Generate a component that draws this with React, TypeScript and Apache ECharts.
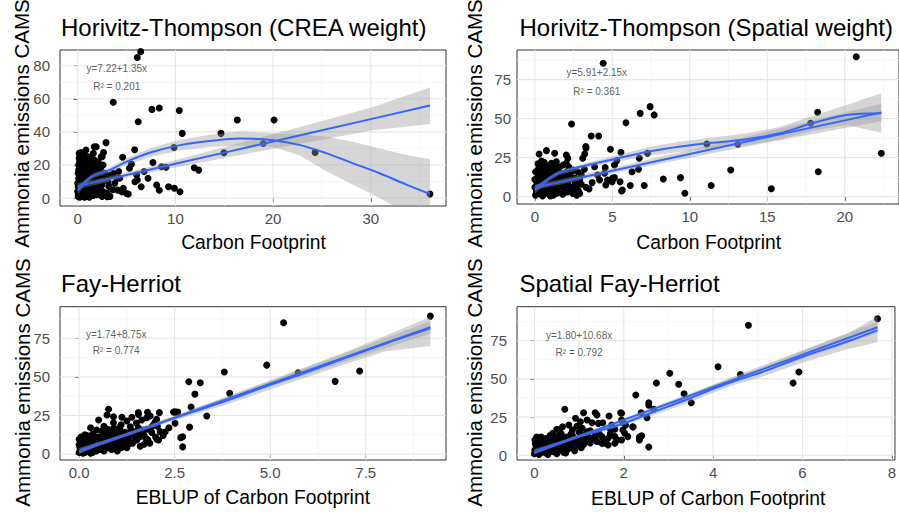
import React, { useEffect, useRef } from 'react';
import * as echarts from 'echarts';

type Pt = [number, number];
type Row = [number, number, number, number]; // x, fit, lower, upper

const FONT = '"Liberation Sans", Arial, Helvetica, sans-serif';

// ---------------- Panel 1: Horvitz-Thompson (CREA weight) ----------------
const htCreaTitle = 'Horivitz-Thompson (CREA weight)';
const htCreaXName = 'Carbon Footprint';
const htCreaEq = 'y=7.22+1.35x';
const htCreaR2 = 'R² = 0.201';
const htCreaXTicks = [0, 10, 20, 30];
const htCreaXMinor = [5, 15, 25, 35];
const htCreaYTicks = [0, 20, 40, 60, 80];
const htCreaYMinor = [10, 30, 50, 70];
const htCreaPoints: Pt[] = [
  [0.05, 1], [0.1, 3], [0.15, 6], [0.2, 9], [0.1, 12], [0.05, 15], [0.2, 18], [0.3, 2], [0.35, 5], [0.4, 8],
  [0.3, 11], [0.4, 14], [0.25, 20], [0.3, 24], [0.35, 27.5], [0.5, 1.5], [0.55, 4], [0.6, 7], [0.5, 10], [0.6, 13],
  [0.55, 16], [0.5, 22], [0.7, 26], [0.75, 2], [0.8, 5], [0.85, 9], [0.7, 12], [0.8, 15], [0.9, 19], [0.75, 23],
  [1.0, 1], [1.05, 4], [1.1, 7], [1.0, 10], [1.15, 13], [1.0, 17], [1.2, 21], [1.1, 25], [1.3, 3], [1.35, 6],
  [1.4, 9], [1.3, 12], [1.45, 16], [1.5, 20], [1.6, 27], [1.6, 1.5], [1.7, 5], [1.75, 8], [1.6, 11], [1.8, 14],
  [1.9, 18], [1.7, 23], [2.0, 2], [2.1, 6], [2.0, 10], [2.2, 13], [2.3, 17], [2.1, 22], [2.5, 1], [2.6, 4],
  [2.5, 8], [2.7, 12], [2.8, 15], [2.4, 19], [3.0, 3], [3.2, 7], [3.1, 10], [3.4, 14], [3.3, 1], [3.6, 5],
  [3.8, 9], [4.0, 12], [4.2, 16], [0.05, 7], [0.1, 20], [0.15, 24], [0.45, 18], [0.65, 20], [0.95, 13], [1.25, 15],
  [0.0, 4], [0.0, 9], [0.2, 0.5], [0.7, 0.5], [1.2, 0.5], [0.4, 3], [0.9, 6], [1.5, 11], [2.0, 14], [2.6, 20],
  [0.85, 29], [1.9, 31],
  [0.1, 17], [0.2, 22], [0.3, 15], [0.45, 12], [0.55, 25], [0.65, 10], [0.7, 17], [0.85, 21], [0.95, 2.5], [1.05, 19],
  [1.15, 9], [1.25, 23], [1.35, 1.5], [1.4, 18], [1.55, 14], [1.65, 22], [1.85, 11], [1.95, 16], [2.05, 20], [2.25, 9],
  [0.25, 13], [0.35, 9.5], [0.6, 3], [0.9, 11], [1.1, 15], [0.15, 27], [0.45, 6], [1.8, 3], [2.3, 4], [2.4, 25],
  [6.1, 85], [6.45, 88.5], [3.64, 57.9], [6.2, 46.1], [7.6, 53.6], [8.35, 54.4], [10.4, 52.9], [10.7, 39.1],
  [14.67, 39.1], [16.34, 47.2], [20.1, 47.2], [9.86, 30.6], [14.97, 27.4], [24.3, 27.6], [19.0, 33.0], [36.06, 2.4],
  [11.93, 18.3], [12.38, 16.9], [7.7, 21.5], [8.08, 7.9], [8.35, 4.7], [9.3, 6.8], [9.9, 5.9], [10.47, 3.8],
  [9.04, 18.6], [8.6, 18.9], [6.5, 6.8], [5.86, 9.9], [5.83, 29.2], [2.9, 33.5], [1.7, 31.0], [2.65, 27.5],
  [2.5, 25], [4.6, 24.7], [4.67, 5.9], [4.1, 4.8], [5.0, 2.8], [3.03, 0.8], [3.64, 14.9], [6.04, 13.9],
  [6.1, 10.9], [2.97, 11.3], [4.5, 3.8], [5.18, 2.4], [5.5, 20.5], [5.3, 18], [4.3, 12], [6.8, 16], [7.2, 12],
];
const htCreaLinear: Row[] = [
  [0, 7.22, 5.4, 9.0], [5, 13.97, 12.4, 15.5], [10, 20.72, 18.4, 23.0], [15, 27.47, 24.2, 30.7],
  [20, 34.22, 29.8, 38.6], [25, 40.97, 35.3, 46.6], [30, 47.72, 40.8, 54.6], [36.06, 55.9, 44.8, 66.9],
];
const htCreaLoess: Row[] = [
  [0, 4.5, 2, 7], [0.8, 10, 8.5, 11.5], [1.6, 13.5, 12, 15], [3.3, 17, 15.5, 18.5], [5, 22, 20, 24],
  [7.7, 28, 25.3, 30.7], [10.5, 32, 28.8, 35.2], [13.5, 34.5, 30.8, 38.2], [16.6, 36, 31.8, 40.2],
  [20, 35, 30.8, 39.2], [22.8, 32, 25.5, 38.5], [25.5, 27, 16, 37], [28.2, 21, 8, 34], [30.9, 15, 0, 30],
  [33.7, 8, -9, 26], [36.06, 2.5, -18, 23.4],
];
const htCreaAnnot = [4.0, 78.4, 67.3];

// ---------------- Panel 2: Horvitz-Thompson (Spatial weight) ----------------
const htSpTitle = 'Horivitz-Thompson (Spatial weight)';
const htSpXName = 'Carbon Footprint';
const htSpEq = 'y=5.91+2.15x';
const htSpR2 = 'R² = 0.361';
const htSpXTicks = [0, 5, 10, 15, 20];
const htSpXMinor = [2.5, 7.5, 12.5, 17.5, 22.5];
const htSpYTicks = [0, 25, 50, 75];
const htSpYMinor = [12.5, 37.5, 62.5, 87.5];
const htSpPoints: Pt[] = [
  [0.05, 1], [0.1, 4], [0.15, 7], [0.1, 10], [0.2, 13], [0.05, 16], [0.3, 2], [0.35, 5.5], [0.4, 9], [0.3, 12],
  [0.45, 15], [0.5, 19], [0.6, 1.5], [0.65, 4.5], [0.7, 8], [0.6, 11], [0.75, 14], [0.8, 17], [0.9, 2.5], [0.95, 6],
  [1.0, 9.5], [0.9, 13], [1.05, 16], [1.2, 1], [1.25, 4], [1.3, 7.5], [1.2, 11], [1.35, 14], [1.45, 18], [1.5, 2.5],
  [1.55, 6], [1.6, 9], [1.5, 12.5], [1.7, 15], [1.8, 1.5], [1.85, 5], [1.9, 8], [1.8, 11], [2.0, 13.5], [2.1, 3],
  [2.2, 7], [2.15, 10], [2.3, 15], [2.45, 2], [2.5, 6], [2.6, 9], [2.4, 12], [2.8, 4], [2.9, 11], [3.0, 14],
  [0.0, 6], [0.0, 11], [0.2, 21], [0.1, 2.5], [0.5, 0.5], [1.0, 0.5], [0.55, 7], [1.1, 12], [0.25, 18], [0.7, 20],
  [1.6, 19], [2.5, 17], [3.3, 6], [2.7, 1],
  [0.15, 8.5], [0.25, 11], [0.35, 14], [0.45, 3], [0.55, 13], [0.65, 16], [0.8, 5], [0.85, 10], [0.95, 15], [1.1, 3],
  [1.15, 8], [1.25, 13], [1.4, 10], [1.45, 16], [1.65, 7], [1.7, 12], [1.95, 10], [2.05, 16], [2.25, 12], [2.35, 5],
  [0.2, 15.5], [0.4, 18], [0.75, 12], [1.35, 2], [1.9, 3.5], [2.7, 7], [2.9, 2], [0.6, 22], [1.2, 19], [2.2, 19],
  [4.41, 85.5], [20.74, 89.7], [7.44, 57.7], [6.8, 53.4], [7.7, 52.4], [5.88, 47.4], [2.37, 46.6], [3.64, 38.9],
  [4.12, 38.9], [3.29, 32.1], [3.22, 27.4], [4.88, 30.4], [5.56, 28.5], [7.27, 27.8], [6.74, 24.6], [11.1, 33.8],
  [13.1, 33.6], [17.8, 47.0], [18.25, 54.1], [18.29, 16.0], [22.36, 27.8], [12.64, 17.1], [15.26, 5.1], [11.38, 7.1],
  [9.4, 12.2], [9.68, 2.2], [8.29, 11.3], [7.06, 7.1], [6.16, 7.1], [5.6, 3.6], [6.27, 16.0], [6.69, 17.6],
  [5.5, 9.6], [4.99, 9.6], [5.14, 12.2], [4.5, 15.0], [4.18, 10.7], [3.86, 19.2], [5.29, 23.1], [5.14, 20.3],
  [4.54, 18.6], [0.28, 27.4], [0.75, 29.5], [1.28, 27.8], [2.03, 26.7], [2.13, 24.6], [0.43, 22.9], [1.07, 21.4],
  [1.39, 22.4], [1.82, 20.3], [2.03, 21.4], [0.86, 18.2], [1.18, 17.1], [3.09, 24.6], [3.3, 31.0], [2.77, 16.0],
  [3.2, 17.6], [4.05, 13.9], [4.69, 10.7], [5.01, 11.8], [4.58, 7.5], [5.65, 4.3], [3.5, 5], [3.0, 8], [2.6, 12], [3.7, 9],
];
const htSpLinear: Row[] = [
  [0, 5.91, 4.2, 7.6], [5, 16.66, 14.9, 18.4], [10, 27.41, 24.9, 29.9], [15, 38.16, 34.6, 41.7],
  [20, 48.91, 44.0, 53.8], [22.36, 53.98, 48.3, 59.7],
];
const htSpLoess: Row[] = [
  [0, 4.3, 1.8, 6.8], [0.7, 10, 8.5, 11.5], [1.5, 15, 13.6, 16.4], [3.4, 20.3, 18.7, 21.9], [5.1, 24, 21.9, 26.1],
  [7.3, 28.8, 26, 31.6], [9.4, 32.1, 28.8, 35.4], [11.5, 34.6, 31.2, 38], [13.7, 36.8, 33, 40.6],
  [15.8, 40.6, 36.6, 44.6], [17.9, 47, 42.3, 51.7], [20.1, 52.4, 46, 58.8], [22.36, 53.5, 41, 66.3],
];
const htSpAnnot = [4.0, 79.5, 67.3];

// ---------------- Panel 3: Fay-Herriot ----------------
const fhTitle = 'Fay-Herriot';
const fhXName = 'EBLUP of Carbon Footprint';
const fhEq = 'y=1.74+8.75x';
const fhR2 = 'R² = 0.774';
const fhXTicks = [0, 2.5, 5, 7.5];
const fhXMinor = [1.25, 3.75, 6.25, 8.75];
const fhYTicks = [0, 25, 50, 75];
const fhYMinor = [12.5, 37.5, 62.5, 87.5];
const fhPoints: Pt[] = [
  [0.0, 1], [0.02, 4], [0.05, 7], [0.0, 9.5], [0.08, 2.5], [0.1, 5.5], [0.12, 8.5], [0.15, 1], [0.18, 3.5], [0.2, 6.5],
  [0.22, 10], [0.25, 2], [0.28, 5], [0.3, 8], [0.32, 11], [0.35, 1], [0.38, 3.5], [0.4, 6.5], [0.42, 9.5], [0.45, 2],
  [0.48, 5], [0.5, 7.5], [0.52, 11], [0.55, 3], [0.58, 6], [0.6, 9], [0.62, 13], [0.65, 2], [0.68, 5], [0.7, 8],
  [0.72, 11.5], [0.75, 4], [0.78, 7], [0.8, 10], [0.82, 14], [0.85, 3], [0.88, 6], [0.9, 9], [0.95, 12], [1.0, 5],
  [1.05, 8], [1.1, 11], [1.15, 6], [1.2, 14], [1.25, 4], [1.3, 12], [1.4, 7], [1.45, 13], [1.55, 17], [1.6, 5],
  [1.7, 12], [1.8, 9], [1.9, 14], [2.0, 11], [2.05, 18], [0.1, 0.5], [0.3, 0.5], [0.05, 11], [0.15, 12.5], [0.0, 6],
  [0.05, 2.5], [0.1, 8], [0.2, 12], [0.25, 9], [0.35, 13], [0.4, 3], [0.45, 11], [0.55, 9.5], [0.6, 15], [0.7, 12.5],
  [0.75, 16], [0.85, 11], [0.95, 14], [1.0, 2], [1.05, 17], [1.1, 4], [1.2, 6.5], [1.3, 8.5], [1.35, 15], [1.45, 11],
  [1.6, 14], [1.75, 10], [1.85, 7], [2.2, 12], [2.35, 17], [0.65, 18], [1.1, 19], [1.5, 20], [1.95, 19], [0.3, 17],
  [9.19, 89.4], [5.35, 85.1], [4.91, 57.6], [3.8, 53.2], [7.34, 53.8], [6.7, 47.1], [2.87, 46.8], [3.17, 46.2],
  [3.94, 39.3], [3.03, 38.8], [5.73, 52.7], [2.93, 30.4], [2.89, 17.4], [3.34, 24.6], [2.71, 11.2], [2.66, 10.6],
  [2.71, 4.6], [2.51, 27.3], [2.57, 26.8], [2.51, 19.9], [2.25, 14.3], [2.08, 9.1], [0.77, 29.0], [0.51, 22.0],
  [0.73, 25.3], [0.9, 24.2], [1.12, 23.8], [1.55, 26.8], [1.79, 27.0], [1.86, 24.6], [1.38, 23.8], [1.64, 22.0],
  [1.34, 17.7], [1.42, 14.5], [1.68, 15.6], [1.6, 11.2], [1.9, 17.7], [2.12, 14.5], [0.9, 16.6], [1.07, 13.4],
  [0.99, 9.1], [1.2, 9.1], [1.34, 6.9], [1.51, 9.1], [0.46, 15.6], [0.64, 12.3], [0.37, 9.1], [0.29, 4.7],
  [0.59, 4.7], [1.77, 16.0], [2.03, 22.5], [1.55, 25.7], [1.77, 23.5], [1.99, 20.7], [1.7, 6.3], [2.03, 9.5],
  [1.07, 16.0], [1.2, 11.7], [1.51, 10.6], [1.25, 21.4], [0.9, 20.3], [2.1, 26.8], [2.47, 27.2], [2.58, 27.2],
];
const fhLinear: Row[] = [
  [0, 1.74, 0.4, 3.1], [2.5, 23.6, 22.4, 24.8], [5, 45.5, 43.6, 47.4], [7.5, 67.4, 64.4, 70.4], [9.19, 82.2, 78.2, 86.2],
];
const fhLoess: Row[] = [
  [0, 2, 0, 4], [0.5, 6.5, 5.3, 7.7], [1, 10.5, 9.5, 11.5], [1.5, 14.8, 13.8, 15.8], [2, 19, 17.8, 20.2],
  [2.5, 23.3, 21.9, 24.7], [3, 27.5, 25.5, 29.5], [3.5, 31.5, 29.2, 33.8], [4, 35.8, 33.2, 38.4],
  [5, 44.8, 41.8, 47.8], [6, 53.5, 50, 57], [7, 62.5, 58.5, 66.5], [8, 71.5, 66.5, 76.5], [9.19, 81.5, 70, 89],
];
const fhAnnot = [0.97, 77.6, 66.8];

// ---------------- Panel 4: Spatial Fay-Herriot ----------------
const sfhTitle = 'Spatial Fay-Herriot';
const sfhXName = 'EBLUP of Carbon Footprint';
const sfhEq = 'y=1.80+10.68x';
const sfhR2 = 'R² = 0.792';
const sfhXTicks = [0, 2, 4, 6, 8];
const sfhXMinor = [1, 3, 5, 7];
const sfhYTicks = [0, 25, 50, 75];
const sfhYMinor = [12.5, 37.5, 62.5, 87.5];
const sfhPoints: Pt[] = [
  [0.0, 1], [0.03, 2.5], [0.05, 5], [0.02, 7.5], [0.08, 1.5], [0.1, 4], [0.12, 6.5], [0.15, 9], [0.18, 2], [0.2, 5],
  [0.22, 7], [0.25, 11], [0.28, 1], [0.3, 3.5], [0.32, 6], [0.35, 8.5], [0.38, 2.5], [0.4, 5], [0.42, 7.5], [0.45, 12],
  [0.48, 3], [0.5, 6], [0.52, 9], [0.55, 13], [0.58, 4], [0.6, 7], [0.62, 10], [0.65, 2], [0.68, 5.5], [0.7, 8.5],
  [0.72, 12], [0.75, 4], [0.78, 7], [0.8, 10], [0.82, 14], [0.85, 5], [0.88, 8], [0.9, 11], [0.95, 6], [1.0, 9],
  [1.05, 12], [1.1, 7], [1.15, 10], [1.2, 13], [1.25, 8], [1.3, 11], [0.1, 0.5], [0.3, 0.5], [0.5, 1], [0.7, 1.5],
  [0.9, 3], [0.05, 9], [0.15, 12], [1.4, 9], [1.6, 10],
  [0.05, 12], [0.1, 2], [0.15, 6], [0.2, 8.5], [0.25, 4], [0.3, 10], [0.35, 13], [0.4, 2.5], [0.45, 9], [0.5, 11],
  [0.55, 5], [0.6, 14], [0.65, 8], [0.7, 3], [0.75, 11], [0.85, 13], [0.9, 6], [0.95, 10], [1.0, 15], [1.05, 5],
  [1.1, 13], [1.2, 9], [1.25, 16], [1.35, 12], [1.45, 14], [1.55, 8], [1.7, 14], [1.85, 10], [0.5, 17], [0.95, 19],
  [7.68, 89.4], [4.79, 85.1], [4.11, 58.0], [3.03, 53.7], [3.23, 46.5], [2.73, 47.3], [5.79, 47.3], [5.92, 54.5],
  [4.61, 52.8], [2.27, 39.5], [3.35, 40.3], [3.51, 34.4], [2.56, 34.4], [2.56, 32.7], [2.39, 27.9], [2.52, 24.6],
  [2.67, 30.1], [2.21, 18.5], [2.35, 12.0], [2.4, 12.8], [2.56, 5.4], [1.93, 27.9], [1.99, 21.3], [1.7, 17.0],
  [0.68, 30.1], [1.1, 27.9], [1.36, 27.9], [1.4, 26.4], [0.92, 24.2], [1.03, 22.0], [1.18, 23.1], [1.29, 21.3],
  [1.43, 20.9], [1.67, 25.7], [1.95, 27.5], [1.53, 21.3], [1.73, 19.8], [1.8, 17.0], [1.95, 23.1], [2.04, 19.8],
  [2.2, 18.7], [1.98, 16.6], [2.38, 12.2], [2.35, 10.0], [0.77, 19.8], [0.63, 18.7], [0.56, 16.6], [0.85, 16.6],
  [1.07, 17.7], [1.18, 15.4], [1.36, 14.4], [1.51, 12.2], [1.65, 11.1], [1.8, 12.2], [1.95, 10.0], [2.09, 12.2],
  [2.02, 14.4], [1.51, 7.9], [1.65, 6.7], [1.8, 7.9], [0.41, 14.4], [0.34, 11.1], [0.26, 10.0], [0.12, 7.9],
  [0.01, 10.0], [0.04, 5.6], [0.01, 3.5], [0.19, 3.5],
];
const sfhLinear: Row[] = [
  [0, 1.8, 0.6, 3.0], [2, 23.16, 22.0, 24.3], [4, 44.52, 42.6, 46.4], [6, 65.88, 63.0, 68.8], [7.68, 83.8, 80.0, 87.6],
];
const sfhLoess: Row[] = [
  [0, 2.5, 0.8, 4.2], [0.5, 7.5, 6.5, 8.5], [1, 12.5, 11.5, 13.5], [1.5, 16.5, 15.3, 17.7], [2, 21, 19.5, 22.5],
  [2.5, 26.5, 24.5, 28.5], [3, 32, 29.6, 34.4], [3.5, 37.5, 35, 40], [4, 43.5, 41, 46], [4.5, 49, 46.3, 51.7],
  [5, 53.5, 50.5, 56.5], [6, 64.5, 60.7, 68.3], [7, 74.5, 69.5, 79.5], [7.68, 82, 74, 91],
];
const sfhAnnot = [1.0, 78.5, 67.6];

const Y_NAME = 'Ammonia emissions CAMS';

const panels = [
  { title: htCreaTitle, xName: htCreaXName, eq: htCreaEq, r2: htCreaR2, xTicks: htCreaXTicks, xMinor: htCreaXMinor, yTicks: htCreaYTicks, yMinor: htCreaYMinor, points: htCreaPoints, linear: htCreaLinear, loess: htCreaLoess, annot: htCreaAnnot, fmt: (v: number) => String(v) },
  { title: htSpTitle, xName: htSpXName, eq: htSpEq, r2: htSpR2, xTicks: htSpXTicks, xMinor: htSpXMinor, yTicks: htSpYTicks, yMinor: htSpYMinor, points: htSpPoints, linear: htSpLinear, loess: htSpLoess, annot: htSpAnnot, fmt: (v: number) => String(v) },
  { title: fhTitle, xName: fhXName, eq: fhEq, r2: fhR2, xTicks: fhXTicks, xMinor: fhXMinor, yTicks: fhYTicks, yMinor: fhYMinor, points: fhPoints, linear: fhLinear, loess: fhLoess, annot: fhAnnot, fmt: (v: number) => v.toFixed(1) },
  { title: sfhTitle, xName: sfhXName, eq: sfhEq, r2: sfhR2, xTicks: sfhXTicks, xMinor: sfhXMinor, yTicks: sfhYTicks, yMinor: sfhYMinor, points: sfhPoints, linear: sfhLinear, loess: sfhLoess, annot: sfhAnnot, fmt: (v: number) => String(v) },
];

// layout (pixels) and axis ranges
const layout = [
  { left: 60, top: 50, width: 386, height: 156, xMin: -1.81, xMax: 37.7, yMin: -4.8, yMax: 89.5, titleX: 61, titleY: 27.7, xTitleX: 253.5, xTitleY: 242.5, yTitleX: 21, yTitleY: 123.5, yLabelMargin: 10 },
  { left: 517, top: 50, width: 386, height: 154, xMin: -1.15, xMax: 23.5, yMin: -4.7, yMax: 94, titleX: 519.5, titleY: 27.7, xTitleX: 708.7, xTitleY: 242.5, yTitleX: 474.5, yTitleY: 123.5, yLabelMargin: 6 },
  { left: 60, top: 306.7, width: 386, height: 153.3, xMin: -0.5, xMax: 9.6, yMin: -3.9, yMax: 95.5, titleX: 61, titleY: 283.7, xTitleX: 252.8, xTitleY: 497.7, yTitleX: 22, yTitleY: 382.5, yLabelMargin: 10 },
  { left: 517, top: 306.7, width: 386, height: 153.3, xMin: -0.39, xMax: 8.07, yMin: -3.1, yMax: 97.3, titleX: 519.5, titleY: 283.7, xTitleX: 708.2, xTitleY: 498, yTitleX: 474.5, yTitleY: 382.5, yLabelMargin: 10 },
];

function buildOption() {
  const grid: any[] = [];
  const xAxis: any[] = [];
  const yAxis: any[] = [];
  const series: any[] = [];
  const graphic: any[] = [];

  panels.forEach((p, i) => {
    const L = layout[i];
    grid.push({ left: L.left, top: L.top, width: L.width, height: L.height, show: true, borderColor: '#333333', borderWidth: 1, backgroundColor: '#ffffff' });
    xAxis.push({
      type: 'value', gridIndex: i, min: L.xMin, max: L.xMax,
      axisLine: { show: false }, splitLine: { show: false },
      axisTick: { show: true, customValues: p.xTicks, length: 4, lineStyle: { color: '#333333' } },
      axisLabel: { customValues: p.xTicks, formatter: p.fmt, color: '#4D4D4D', fontSize: 15, fontFamily: FONT, margin: 5 },
    });
    yAxis.push({
      type: 'value', gridIndex: i, min: L.yMin, max: L.yMax,
      axisLine: { show: false }, splitLine: { show: false },
      axisTick: { show: true, customValues: p.yTicks, length: 4, lineStyle: { color: '#333333' } },
      axisLabel: { customValues: p.yTicks, color: '#4D4D4D', fontSize: 15, fontFamily: FONT, margin: L.yLabelMargin },
    });

    // grid lines (through the axis scales)
    const gridData: number[][] = [];
    p.xTicks.forEach((v) => gridData.push([v, 0, 0, 0]));
    p.xMinor.forEach((v) => gridData.push([v, 0, 0, 1]));
    p.yTicks.forEach((v) => gridData.push([0, v, 1, 0]));
    p.yMinor.forEach((v) => gridData.push([0, v, 1, 1]));
    series.push({
      type: 'custom', xAxisIndex: i, yAxisIndex: i, silent: true, z: 1, clip: true,
      data: gridData,
      renderItem: (params: any, api: any) => {
        const cs = params.coordSys;
        const pt = api.coord([api.value(0), api.value(1)]);
        const vertical = api.value(2) === 0;
        const minor = api.value(3) === 1;
        const shape = vertical
          ? { x1: pt[0], y1: cs.y, x2: pt[0], y2: cs.y + cs.height }
          : { x1: cs.x, y1: pt[1], x2: cs.x + cs.width, y2: pt[1] };
        return { type: 'line', shape, style: { stroke: minor ? '#F2F2F2' : '#E6E6E6', lineWidth: minor ? 0.7 : 1.1 } };
      },
    });

    // points
    series.push({
      type: 'scatter', xAxisIndex: i, yAxisIndex: i, silent: true, z: 2,
      data: p.points, symbolSize: 7, itemStyle: { color: '#000000', opacity: 1 },
    });

    // confidence bands
    [p.linear, p.loess].forEach((rows) => {
      series.push({
        type: 'custom', xAxisIndex: i, yAxisIndex: i, silent: true, z: 3, clip: true,
        data: rows.map((r) => [r[0], r[1]]),
        renderItem: (params: any, api: any) => {
          if (params.dataIndex !== 0) return null;
          const upper = rows.map((r) => api.coord([r[0], r[3]]));
          const lower = rows.slice().reverse().map((r) => api.coord([r[0], r[2]]));
          return { type: 'polygon', shape: { points: upper.concat(lower) }, style: { fill: 'rgba(153,153,153,0.4)' } };
        },
      });
    });

    // fit lines
    series.push({
      type: 'line', xAxisIndex: i, yAxisIndex: i, silent: true, z: 4, clip: true,
      data: p.linear.map((r) => [r[0], r[1]]), symbol: 'none', showSymbol: false,
      lineStyle: { color: '#3366FF', width: 2 },
    });
    series.push({
      type: 'line', xAxisIndex: i, yAxisIndex: i, silent: true, z: 4, clip: true, smooth: 0.35,
      data: p.loess.map((r) => [r[0], r[1]]), symbol: 'none', showSymbol: false,
      lineStyle: { color: '#3366FF', width: 2 },
    });

    // annotation text
    series.push({
      type: 'scatter', xAxisIndex: i, yAxisIndex: i, silent: true, z: 5,
      symbolSize: 1, itemStyle: { color: 'rgba(0,0,0,0)' },
      data: [
        { value: [p.annot[0], p.annot[1]], name: p.eq },
        { value: [p.annot[0], p.annot[2]], name: p.r2 },
      ],
      label: { show: true, position: 'inside', formatter: '{b}', color: '#333333', fontSize: 10, fontFamily: FONT },
    });

    graphic.push({
      type: 'text', x: L.titleX, y: L.titleY, silent: true,
      style: { text: p.title, font: `24px ${FONT}`, fill: '#000000', textAlign: 'left', textVerticalAlign: 'middle' },
    });
    graphic.push({
      type: 'text', x: L.xTitleX, y: L.xTitleY, silent: true,
      style: { text: p.xName, font: `19.3px ${FONT}`, fill: '#000000', textAlign: 'center', textVerticalAlign: 'middle' },
    });
    graphic.push({
      type: 'text', x: L.yTitleX, y: L.yTitleY, rotation: Math.PI / 2, silent: true,
      style: { text: Y_NAME, font: `20.5px ${FONT}`, fill: '#000000', textAlign: 'center', textVerticalAlign: 'middle' },
    });
  });

  return { animation: false, backgroundColor: '#ffffff', grid, xAxis, yAxis, series, graphic };
}

export default function App() {
  const ref = useRef<HTMLDivElement>(null);
  useEffect(() => {
    document.body.style.margin = '0';
    document.body.style.overflow = 'hidden';
    if (!ref.current) return;
    const chart = echarts.init(ref.current, undefined, { renderer: 'svg' });
    chart.setOption(buildOption() as any);
    return () => chart.dispose();
  }, []);
  return <div ref={ref} style={{ width: 899, height: 512, overflow: 'hidden' }} />;
}
